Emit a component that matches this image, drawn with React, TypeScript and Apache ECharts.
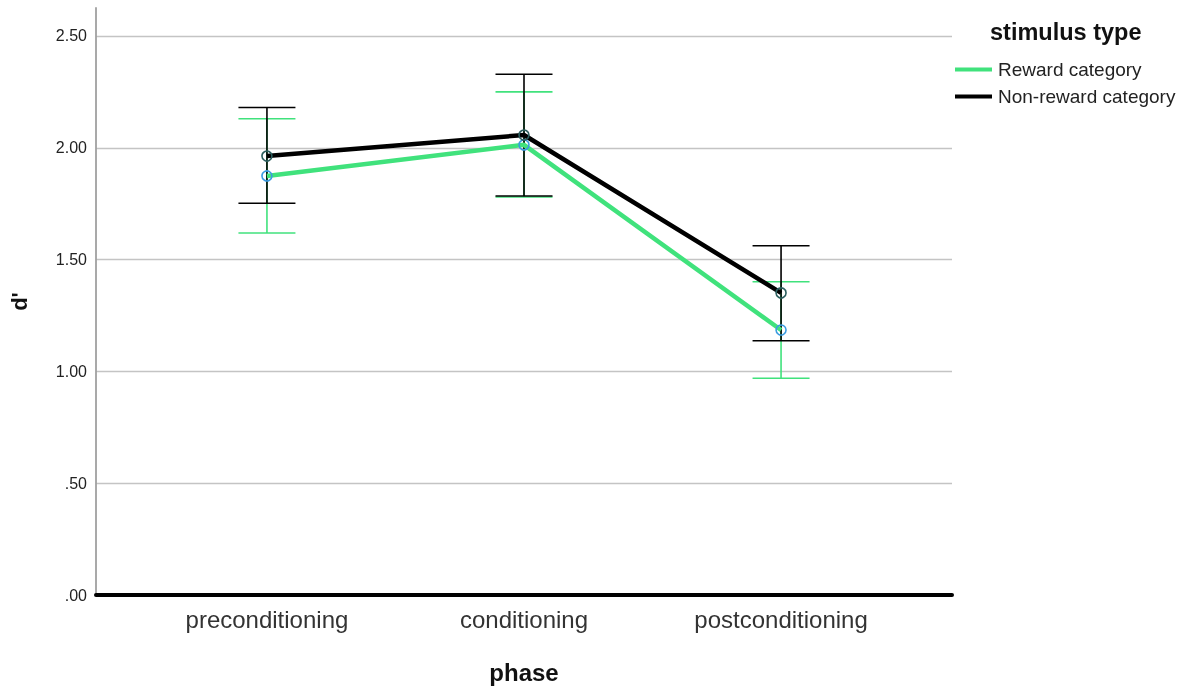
import React, { useEffect, useRef } from "react";
import * as echarts from "echarts";

const categories = ["preconditioning", "conditioning", "postconditioning"];
const seriesNames = ["Reward category", "Non-reward category"];
const rewardMean = [1.874, 2.013, 1.185];
const rewardLow = [1.619, 1.78, 0.969];
const rewardHigh = [2.13, 2.25, 1.401];
const nonRewardMean = [1.963, 2.057, 1.351];
const nonRewardLow = [1.752, 1.784, 1.137];
const nonRewardHigh = [2.18, 2.329, 1.562];
const yTicks = [0, 0.5, 1, 1.5, 2, 2.5];

const GREEN = "#40e27c";
const BLACK = "#000000";
const FONT = "Liberation Sans, Arial, sans-serif";

function errorSeries(name: string, low: number[], high: number[], color: string, z: number) {
  return {
    type: "custom",
    name: name + " CI",
    z,
    silent: true,
    data: categories.map((_, i) => [i, low[i], high[i]]),
    encode: { x: 0, y: [1, 2] },
    renderItem: (params: any, api: any) => {
      const x = api.value(0);
      const top = api.coord([x, api.value(2)]);
      const bot = api.coord([x, api.value(1)]);
      const hw = 28.5;
      const style = { stroke: color, lineWidth: 1.6 };
      return {
        type: "group",
        children: [
          { type: "line", shape: { x1: top[0], y1: top[1], x2: bot[0], y2: bot[1] }, style },
          { type: "line", shape: { x1: top[0] - hw, y1: top[1], x2: top[0] + hw, y2: top[1] }, style },
          { type: "line", shape: { x1: bot[0] - hw, y1: bot[1], x2: bot[0] + hw, y2: bot[1] }, style },
        ],
      };
    },
  };
}

export default function App() {
  const ref = useRef<HTMLDivElement>(null);
  useEffect(() => {
    const chart = echarts.init(ref.current!, null, { renderer: "svg" });
    chart.setOption({
      animation: false,
      textStyle: { fontFamily: FONT },
      title: {
        text: "stimulus type",
        left: 985,
        top: 15,
        textStyle: { fontSize: 23.5, fontWeight: "bold", color: "#111", fontFamily: FONT },
      },
      legend: {
        orient: "vertical",
        left: 955,
        top: 60,
        padding: 0,
        itemWidth: 37,
        itemHeight: 4,
        itemGap: 8,
        icon: "rect",
        data: [
          { name: seriesNames[0], itemStyle: { color: GREEN, borderWidth: 0 } },
          { name: seriesNames[1], itemStyle: { color: BLACK, borderWidth: 0 } },
        ],
        textStyle: { fontSize: 19, color: "#222", fontFamily: FONT, padding: [0, 0, 0, 1] },
      },
      grid: { left: 92, right: 236, top: 8, bottom: 89, containLabel: false },
      xAxis: {
        type: "value",
        min: -0.665,
        max: 2.665,
        name: "phase",
        nameLocation: "middle",
        nameGap: 65,
        nameTextStyle: { fontSize: 24, fontWeight: "bold", color: "#111" },
        axisLine: { show: true, onZero: false, lineStyle: { color: "#000", width: 4 } },
        axisTick: { show: false },
        splitLine: { show: false },
        axisLabel: {
          customValues: [0, 1, 2],
          formatter: (v: number) => categories[Math.round(v)] ?? "",
          fontSize: 24,
          color: "#333",
          margin: 12,
        },
      },
      yAxis: {
        type: "value",
        min: 0,
        max: 2.625,
        interval: 0.5,
        name: "d'",
        nameLocation: "middle",
        nameGap: 66,
        nameRotate: 90,
        nameTextStyle: { fontSize: 22, fontWeight: "bold", color: "#111" },
        axisLine: { show: true, onZero: false, lineStyle: { color: "#a0a0a0", width: 1.8 } },
        axisTick: { show: false },
        splitLine: { show: true, showMaxLine: false, lineStyle: { color: "#c4c4c4", width: 1.3 } },
        axisLabel: {
          customValues: yTicks,
          formatter: (v: number) => {
            const s = v.toFixed(2);
            return s.startsWith("0") ? s.slice(1) : s;
          },
          fontSize: 16,
          color: "#222",
          margin: 9,
        },
      },
      series: [
        errorSeries(seriesNames[0], rewardLow, rewardHigh, GREEN, 2),
        errorSeries(seriesNames[1], nonRewardLow, nonRewardHigh, BLACK, 3),
        {
          type: "line",
          name: seriesNames[0],
          z: 4,
          data: categories.map((_, i) => [i, rewardMean[i]]),
          color: GREEN,
          lineStyle: { color: GREEN, width: 4.5 },
          symbol: "circle",
          symbolSize: 10,
          itemStyle: { color: "rgba(255,255,255,0)", borderColor: "#3a9be0", borderWidth: 1.6 },
        },
        {
          type: "line",
          name: seriesNames[1],
          z: 5,
          data: categories.map((_, i) => [i, nonRewardMean[i]]),
          color: BLACK,
          lineStyle: { color: BLACK, width: 4.5 },
          symbol: "circle",
          symbolSize: 10,
          itemStyle: { color: "rgba(255,255,255,0)", borderColor: "#2b5e5e", borderWidth: 1.6 },
        },
      ],
    });
    return () => chart.dispose();
  }, []);
  return <div ref={ref} style={{ position: "fixed", left: 0, top: 0, width: 1188, height: 689 }} />;
}
